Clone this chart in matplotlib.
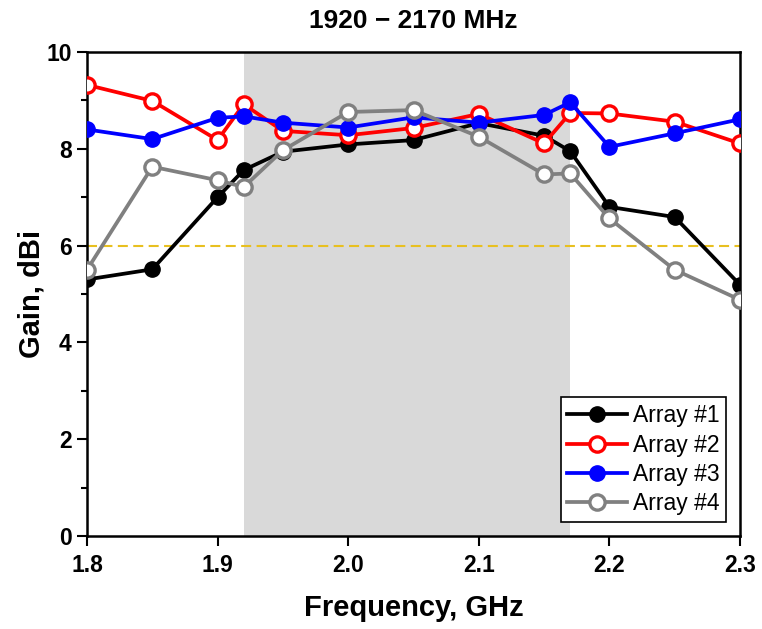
import matplotlib
matplotlib.use("Agg")
import matplotlib.pyplot as plt

freq = [1.80, 1.85, 1.90, 1.92, 1.95, 2.00, 2.05, 2.10, 2.15, 2.17, 2.20, 2.25, 2.30]
array1 = [5.30, 5.51, 7.00, 7.56, 7.94, 8.09, 8.18, 8.53, 8.27, 7.95, 6.80, 6.59, 5.19]
array2 = [9.32, 8.99, 8.18, 8.92, 8.37, 8.28, 8.43, 8.72, 8.11, 8.74, 8.73, 8.56, 8.11]
array3 = [8.40, 8.20, 8.64, 8.67, 8.54, 8.44, 8.65, 8.54, 8.70, 8.96, 8.04, 8.32, 8.61]
array4 = [5.50, 7.63, 7.35, 7.21, 7.97, 8.76, 8.80, 8.25, 7.47, 7.49, 6.56, 5.50, 4.88]
labels = ["Array #1", "Array #2", "Array #3", "Array #4"]
band = (1.92, 2.17)
threshold = 6
xticks = [1.8, 1.9, 2.0, 2.1, 2.2, 2.3]
yticks = [0, 2, 4, 6, 8, 10]

plt.rcParams['font.family'] = ['Liberation Sans', 'DejaVu Sans']

fig = plt.figure(figsize=(7.62, 6.29), dpi=100)
ax = fig.add_axes([87/762, 1-536/629, (740-87)/762, (536-52)/629])

ax.axvspan(band[0], band[1], color='#d9d9d9', lw=0, zorder=0)
ax.axhline(threshold, color='#e8c020', ls=(0, (4.8, 2.6)), lw=1.5, zorder=1)

lw = 2.7
ms = 11
ax.plot(freq, array1, color='black', marker='o', ms=ms, lw=lw, mfc='black', mec='black', label=labels[0], zorder=3)
ax.plot(freq, array2, color='#ff0000', marker='o', ms=ms, lw=lw, mfc='white', mec='#ff0000', mew=2.4, label=labels[1], zorder=3)
ax.plot(freq, array3, color='#0000ff', marker='o', ms=ms, lw=lw, mfc='#0000ff', mec='#0000ff', label=labels[2], zorder=3)
ax.plot(freq, array4, color='#808080', marker='o', ms=ms, lw=lw, mfc='white', mec='#808080', mew=2.4, label=labels[3], zorder=3)

ax.set_xlim(1.8, 2.3)
ax.set_ylim(0, 10)
ax.set_xticks(xticks)
ax.set_xticklabels([f"{v:.1f}" for v in xticks])
ax.set_yticks(yticks)
ax.set_yticks(range(1, 10, 2), minor=True)
ax.tick_params(axis='x', which='major', direction='out', length=7, width=1.5, labelsize=16.5, pad=6)
ax.tick_params(axis='y', which='major', direction='out', length=7, width=1.5, labelsize=16.5, pad=4)
ax.tick_params(axis='y', which='minor', direction='out', length=4, width=1.5)
for lab in ax.get_xticklabels() + ax.get_yticklabels():
    lab.set_fontweight('bold')
for s in ax.spines.values():
    s.set_linewidth(1.8)

ax.set_xlabel("Frequency, GHz", fontsize=21, fontweight='bold', labelpad=12)
ax.set_ylabel("Gain, dBi", fontsize=21, fontweight='bold')
ax.yaxis.set_label_coords(-41/653, 0.5)
ax.set_title("1920 − 2170 MHz", fontsize=19, fontweight='bold', pad=17)

leg = ax.legend(loc='lower right', fontsize=16.5, frameon=True, fancybox=False,
                edgecolor='black', framealpha=1, handlelength=2.6, handletextpad=0.25,
                labelspacing=0.28, borderaxespad=0.6, borderpad=0.3)
leg.get_frame().set_linewidth(1.2)

fig.savefig("out.png", dpi=100)
